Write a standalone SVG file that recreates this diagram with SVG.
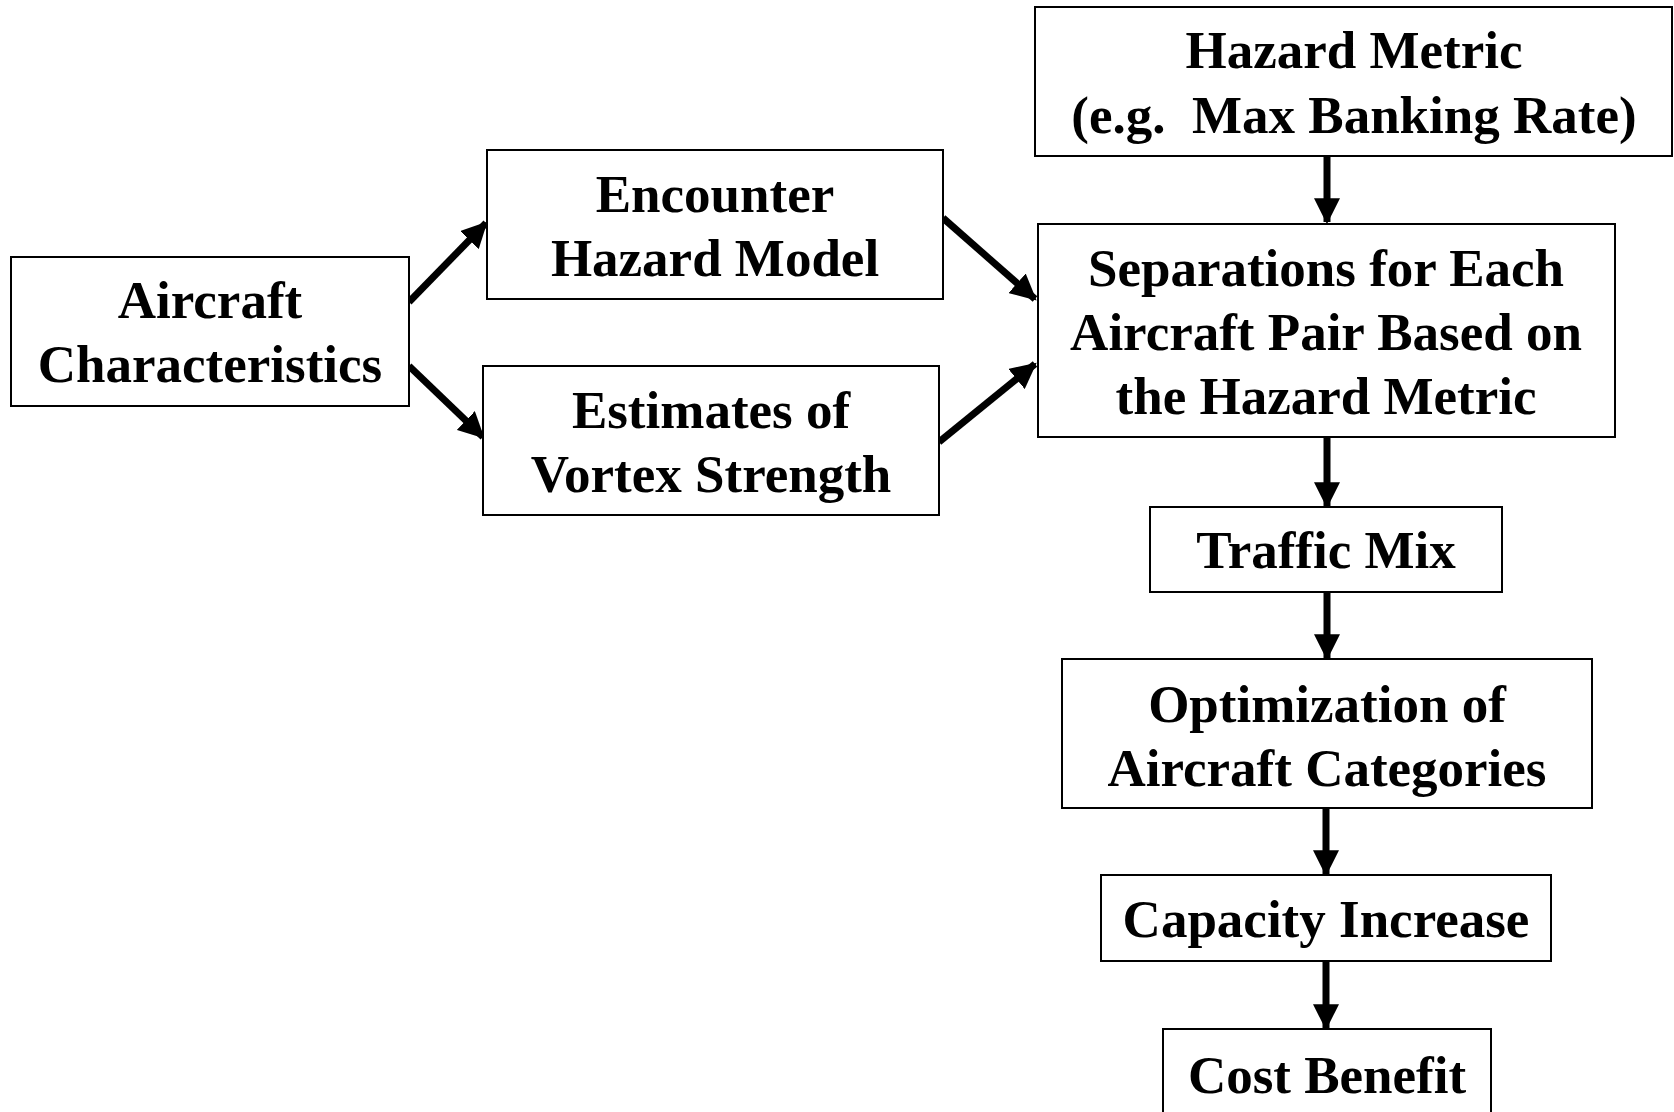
<svg xmlns="http://www.w3.org/2000/svg" width="1674" height="1112" viewBox="0 0 1674 1112">
<style>
  .box { fill: #ffffff; stroke: #000000; stroke-width: 2; }
  .lbl { font-family: "Liberation Serif", "Times New Roman", serif; font-weight: bold; font-size: 53px; fill: #000000; text-anchor: middle; white-space: pre; }
  .conn { stroke: #000000; stroke-width: 7; fill: none; marker-end: url(#ah); }
</style>
<defs>
  <marker id="ah" markerUnits="userSpaceOnUse" markerWidth="26" markerHeight="26" viewBox="0 0 24 24" refX="22" refY="12" orient="auto">
    <path d="M0,0 L24,12 L0,24 Z" fill="#000000"/>
  </marker>
</defs>
<rect x="0" y="0" width="1674" height="1112" fill="#ffffff"/>

<g id="connectors">
  <line class="conn" x1="409" y1="302" x2="486" y2="223"/>
  <line class="conn" x1="409" y1="366" x2="483" y2="437"/>
  <line class="conn" x1="943" y1="218" x2="1035" y2="299"/>
  <line class="conn" x1="939" y1="442" x2="1035" y2="364"/>
  <line class="conn" x1="1327" y1="156" x2="1327" y2="222"/>
  <line class="conn" x1="1327" y1="437" x2="1327" y2="506"/>
  <line class="conn" x1="1327" y1="592" x2="1327" y2="658"/>
  <line class="conn" x1="1326" y1="808" x2="1326" y2="874"/>
  <line class="conn" x1="1326" y1="961" x2="1326" y2="1028"/>
</g>

<g id="aircraft-characteristics">
  <rect class="box" x="11" y="257" width="398" height="149"/>
  <text class="lbl" x="210" y="318">Aircraft</text>
  <text class="lbl" x="210" y="382">Characteristics</text>
</g>

<g id="encounter-hazard-model">
  <rect class="box" x="487" y="150" width="456" height="149"/>
  <text class="lbl" x="715" y="212">Encounter</text>
  <text class="lbl" x="715" y="276">Hazard Model</text>
</g>

<g id="estimates-vortex-strength">
  <rect class="box" x="483" y="366" width="456" height="149"/>
  <text class="lbl" x="711" y="428">Estimates of</text>
  <text class="lbl" x="711" y="492">Vortex Strength</text>
</g>

<g id="hazard-metric">
  <rect class="box" x="1035" y="7" width="637" height="149"/>
  <text class="lbl" x="1354" y="68">Hazard Metric</text>
  <text class="lbl" x="1354" y="133">(e.g.  Max Banking Rate)</text>
</g>

<g id="separations">
  <rect class="box" x="1038" y="224" width="577" height="213"/>
  <text class="lbl" x="1326" y="286">Separations for Each</text>
  <text class="lbl" x="1326" y="350">Aircraft Pair Based on</text>
  <text class="lbl" x="1326" y="414">the Hazard Metric</text>
</g>

<g id="traffic-mix">
  <rect class="box" x="1150" y="507" width="352" height="85"/>
  <text class="lbl" x="1326" y="568">Traffic Mix</text>
</g>

<g id="optimization">
  <rect class="box" x="1062" y="659" width="530" height="149"/>
  <text class="lbl" x="1327" y="722">Optimization of</text>
  <text class="lbl" x="1327" y="786">Aircraft Categories</text>
</g>

<g id="capacity-increase">
  <rect class="box" x="1101" y="875" width="450" height="86"/>
  <text class="lbl" x="1326" y="937">Capacity Increase</text>
</g>

<g id="cost-benefit">
  <rect class="box" x="1163" y="1029" width="328" height="100"/>
  <text class="lbl" x="1327" y="1093">Cost Benefit</text>
</g>
</svg>
